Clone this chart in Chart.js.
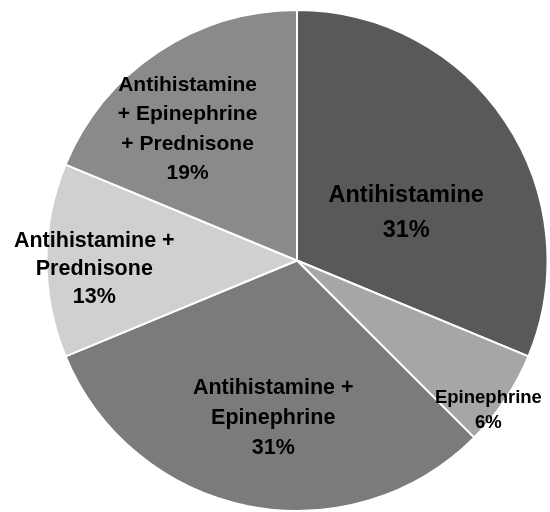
<!DOCTYPE html>
<html>
<head>
<meta charset="utf-8">
<script src="https://cdn.jsdelivr.net/npm/chart.js@4"></script>
<style>
  html, body { margin: 0; padding: 0; background: #ffffff; overflow: hidden; }
  canvas { display: block; }
</style>
</head>
<body>
<canvas id="chart" width="550" height="512"></canvas>
<script>
// Treatment groups (patient counts) shown as a pie, clockwise from 12 o'clock
const categories = [
  ['Antihistamine'],
  ['Epinephrine'],
  ['Antihistamine +', 'Epinephrine'],
  ['Antihistamine +', 'Prednisone'],
  ['Antihistamine', '+ Epinephrine', '+ Prednisone']
];
const counts = [5, 1, 5, 2, 3];
const sliceColors = ['#595959', '#a6a6a6', '#7b7b7b', '#d0d0d0', '#8a8a8a'];

// Label placement inside each slice: fraction of the slice's sweep,
// fraction of the radius, font size and line spacing
const labelStyle = [
  { sweep: 0.592, radius: 0.475, size: 23.5, lineGap: 35 },
  { sweep: 0.690, radius: 0.970, size: 18.5, lineGap: 25 },
  { sweep: 0.476, radius: 0.638, size: 21.5, lineGap: 30 },
  { sweep: 0.444, radius: 0.810, size: 21.5, lineGap: 28 },
  { sweep: 0.410, radius: 0.682, size: 21.0, lineGap: 29.5 }
];

const total = counts.reduce((a, b) => a + b, 0);

const sliceLabels = {
  id: 'sliceLabels',
  afterDatasetsDraw(chart) {
    const ctx = chart.ctx;
    const meta = chart.getDatasetMeta(0);
    meta.data.forEach((arc, i) => {
      const st = labelStyle[i];
      const p = arc.getProps(['x', 'y', 'startAngle', 'endAngle', 'outerRadius'], true);
      const ang = p.startAngle + st.sweep * (p.endAngle - p.startAngle);
      const dist = st.radius * p.outerRadius;
      const cx = p.x + Math.cos(ang) * dist;
      const cy = p.y + Math.sin(ang) * dist;
      const pct = Math.round(counts[i] / total * 100) + '%';
      const lines = categories[i].concat([pct]);
      ctx.save();
      ctx.fillStyle = '#000000';
      ctx.font = 'bold ' + st.size + 'px "Liberation Sans", Arial, sans-serif';
      ctx.textAlign = 'center';
      ctx.textBaseline = 'middle';
      const top = cy - (lines.length - 1) * st.lineGap / 2;
      lines.forEach((t, k) => ctx.fillText(t, cx, top + k * st.lineGap));
      ctx.restore();
    });
  }
};

new Chart(document.getElementById('chart'), {
  type: 'pie',
  data: {
    labels: categories.map(c => c.join(' ')),
    datasets: [{
      data: counts,
      backgroundColor: sliceColors,
      borderColor: '#ffffff',
      borderWidth: 2
    }]
  },
  options: {
    responsive: false,
    animation: false,
    layout: { padding: { left: 45, right: 1, top: 9, bottom: 0 } },
    plugins: {
      legend: { display: false },
      tooltip: { enabled: false }
    }
  },
  plugins: [sliceLabels]
});
</script>
</body>
</html>
